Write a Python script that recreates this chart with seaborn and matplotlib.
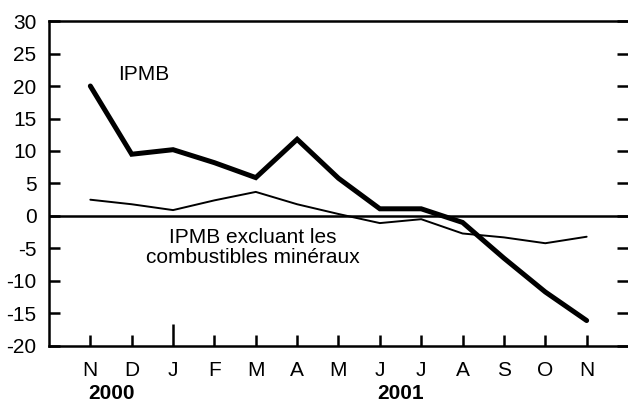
import matplotlib
matplotlib.use("Agg")
import matplotlib.pyplot as plt
import matplotlib.transforms as mtransforms
import seaborn as sns
import pandas as pd

months = ["N", "D", "J", "F", "M", "A", "M", "J", "J", "A", "S", "O", "N"]
ipmb = [20.0, 9.5, 10.2, 8.2, 5.9, 11.8, 5.8, 1.1, 1.1, -1.0, -6.5, -11.7, -16.1]
ipmb_excl = [2.5, 1.8, 0.9, 2.4, 3.7, 1.8, 0.3, -1.1, -0.5, -2.7, -3.3, -4.2, -3.2]
yticks = [-20, -15, -10, -5, 0, 5, 10, 15, 20, 25, 30]
years = ["2000", "2001"]

sns.set_style("white")
plt.rcParams['font.family'] = ['Liberation Sans', 'DejaVu Sans']
plt.rcParams['text.color'] = 'black'
FS = 15

df = pd.DataFrame({"x": list(range(len(months))), "ipmb": ipmb, "excl": ipmb_excl})

fig = plt.figure(figsize=(6.28, 4.05), dpi=100)
ax = fig.add_axes([0.078, 0.146, 0.922, 0.802])

sns.lineplot(data=df, x="x", y="ipmb", ax=ax, color="black", linewidth=3.6, solid_joinstyle="miter")
sns.lineplot(data=df, x="x", y="excl", ax=ax, color="black", linewidth=1.4)
ax.axhline(0, color="black", linewidth=1.8, zorder=1)

ax.set_xlim(-1, 13)
ax.set_ylim(-20, 30)
ax.set_xlabel("")
ax.set_ylabel("")
ax.set_yticks(yticks)
ax.set_yticklabels([str(v) for v in yticks], fontsize=FS)
ax.set_xticks(range(len(months)))
ax.set_xticklabels(months, fontsize=FS)

for s in ["left", "top", "bottom"]:
    ax.spines[s].set_linewidth(1.8)
    ax.spines[s].set_color("black")
ax.spines["right"].set_visible(False)

ax.tick_params(axis="y", which="major", direction="in", length=8, width=1.8,
               left=True, right=True, labelleft=True, labelright=False, pad=9, colors="black")
ax.tick_params(axis="x", which="major", direction="in", length=8, width=1.8,
               bottom=True, top=False, pad=11, colors="black")
ax.xaxis.get_major_ticks()[2].tick1line.set_markersize(16)

ax.text(1.3, 21.7, "IPMB", fontsize=FS, ha="center", va="center", color="black")
ax.text(3.93, -4.9, "IPMB excluant les\ncombustibles minéraux", fontsize=FS,
        ha="center", va="center", linespacing=1.05, color="black")

trans = mtransforms.blended_transform_factory(ax.transData, fig.transFigure)
ax.text(0.5, 0.014, years[0], fontsize=FS, fontweight="bold", ha="center", va="baseline",
        transform=trans, color="black")
ax.text(7.5, 0.014, years[1], fontsize=FS, fontweight="bold", ha="center", va="baseline",
        transform=trans, color="black")

fig.savefig("out.png", dpi=100)
